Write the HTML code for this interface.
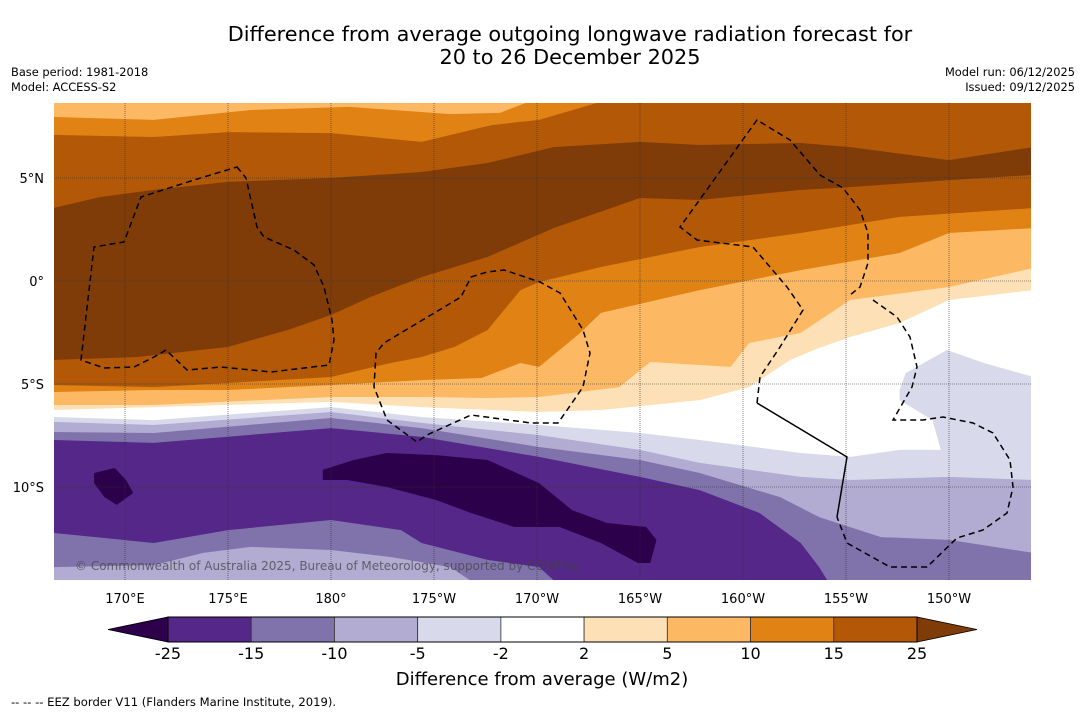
<!DOCTYPE html>
<html><head><meta charset="utf-8">
<style>
html,body{margin:0;padding:0;background:#fff;}
body{width:1085px;height:713px;overflow:hidden;font-family:"DejaVu Sans","Liberation Sans",sans-serif;}
svg text{font-family:"DejaVu Sans","Liberation Sans",sans-serif;}
</style></head>
<body>
<svg id="chart" width="1085" height="713" viewBox="0 0 1085 713" xmlns="http://www.w3.org/2000/svg">
<rect x="0" y="0" width="1085" height="713" fill="#fff"/>
<text x="570" y="41" font-size="20.8" text-anchor="middle" fill="#000">Difference from average outgoing longwave radiation forecast for</text>
<text x="570" y="64" font-size="20.8" text-anchor="middle" fill="#000">20 to 26 December 2025</text>
<text x="11" y="76" font-size="11.4" fill="#000">Base period: 1981-2018</text>
<text x="11" y="91" font-size="11.4" fill="#000">Model: ACCESS-S2</text>
<text x="1075" y="76" font-size="11.4" text-anchor="end" fill="#000">Model run: 06/12/2025</text>
<text x="1075" y="91" font-size="11.4" text-anchor="end" fill="#000">Issued: 09/12/2025</text>
<defs><clipPath id="mapclip"><rect x="54" y="103" width="977" height="477"/></clipPath></defs>
<g id="map" clip-path="url(#mapclip)"></g>
<g id="eez" clip-path="url(#mapclip)" fill="none" stroke="#000" stroke-width="1.5">
<path stroke-dasharray="6,4" d="M237,167 L246,178 L257,227 L264,237 L294,250 L314,265 L324,287 L332,320 L334,340 L329,365 L271,372 L221,367 L187,370 L166,350 L154,357 L134,367 L104,368 L81,360 L94,247 L124,242 L141,197 L194,180 Z"/>
<path stroke-dasharray="6,4" d="M471,277 L487,272 L504,270 L540,282 L560,293 L583,330 L590,353 L583,387 L565,413 L558,423 L531,423 L471,415 L427,435 L417,442 L387,420 L374,387 L376,353 L384,343 L461,297 Z"/>
<path stroke-dasharray="6,4" d="M757,403 L760,377 L780,347 L803,310 L787,287 L753,247 L697,240 L680,227 L757,120 L790,140 L820,175 L843,188 L860,210 L868,233 L868,263 L860,287 L850,295"/>
<path stroke-dasharray="6,4" d="M873,300 L897,317 L910,337 L917,367 L912,387 L893,420 L923,420 L943,417 L973,423 L993,433 L1010,460 L1013,487 L1007,513 L983,530 L957,538 L927,567 L890,567 L847,543 L837,517"/>
<path d="M757,403 L847,457 L837,517"/>
</g>
<g id="grid"></g>
<text x="75" y="570" font-size="12" fill="#444" fill-opacity="0.75">© Commonwealth of Australia 2025, Bureau of Meteorology, supported by COSPPac</text>
<g id="axes"></g>
<g id="cbar"></g>
<text x="542" y="685" font-size="18" text-anchor="middle" fill="#000">Difference from average (W/m2)</text>
<text x="11" y="706" font-size="11.6" fill="#000">--  --  -- EEZ border V11 (Flanders Marine Institute, 2019).</text>
</svg>
<script>
// ---- data ----
const bandColors = ["#2d004b","#542788","#8073ac","#b2abd2","#d8daeb","#ffffff","#fee0b6","#fdb863","#e08214","#b35806","#7f3b08"];
const levels = [-25,-15,-10,-5,-2,2,5,10,15,25];
const lonTicks = [170,175,180,185,190,195,200,205,210];
const lonTickLabels = ["170°E","175°E","180°","175°W","170°W","165°W","160°W","155°W","150°W"];
const latTicks = [5,0,-5,-10];
const latTickLabels = ["5°N","0°","5°S","10°S"];
const backgroundBand = "#fdb863";
// contour lines [lon,lat]; the region below each line is filled with its colour, in order
const c1 = [[166.5,7.96],[171.4,7.82],[176.1,8.3],[180.9,8.45],[185.8,8.1],[188.2,8.16],[189.6,8.7],[214.1,8.7]];
const c2 = [[166.5,7.09],[171.4,6.99],[175,7.23],[180,7.18],[184.4,6.75],[187.8,7.57],[190.1,7.82],[193.1,8.7],[214.1,8.7]];
const c3 = [[166.5,3.54],[168.8,4.08],[171.4,4.42],[175,4.81],[180,5.0],[184.4,5.29],[187.6,5.73],[190.8,6.5],[195,6.75],[197.9,6.6],[202.8,6.7],[205.2,6.5],[210,5.87],[214.1,6.5]];
const c4 = [[166.5,-3.83],[170.6,-3.69],[175,-3.2],[177.9,-2.38],[180,-1.65],[181.9,-0.78],[184.4,0.19],[187.6,1.17],[190.8,2.57],[195,4.03],[197.9,3.93],[202.8,4.42],[205.2,4.56],[210,4.9],[214.1,5.15]];
const c5 = [[166.5,-5.05],[171.4,-5.15],[175,-4.95],[180,-4.66],[182.9,-3.98],[184.4,-3.69],[186,-3.2],[187.6,-2.38],[189.2,-0.44],[190.1,-0.05],[193.1,0.68],[197.9,1.65],[202.8,2.33],[207.6,3.11],[214.1,3.54]];
const c6 = [[166.5,-5.39],[171.4,-5.29],[175,-5.29],[180,-5.05],[184.4,-4.81],[187.3,-4.71],[189.2,-3.98],[190.1,-4.17],[192.1,-2.52],[193.1,-1.55],[197.9,-0.44],[202.8,0.53],[207.6,1.36],[210,2.33],[214.1,2.57]];
const c7 = [[166.5,-6.02],[171.4,-6.02],[180,-5.63],[184.4,-5.63],[187.6,-5.68],[190.1,-5.63],[194,-5.15],[195.5,-3.93],[197.9,-4.08],[199.4,-4.17],[200.3,-3.01],[202.8,-2.52],[205.2,-0.92],[210,-0.29],[214.1,0.63]];
const c8 = [[166.5,-6.26],[180,-5.87],[184.4,-6.12],[190.1,-6.36],[193.1,-6.26],[197.9,-5.78],[200.3,-5.15],[202.3,-3.83],[203.7,-3.25],[205.2,-2.72],[207.6,-2.04],[210,-0.92],[214.1,-0.44]];
const c9 = [[166.5,-6.6],[171.4,-6.75],[180,-6.12],[184.4,-6.6],[190.1,-6.99],[195,-7.38],[197.9,-7.72],[202.8,-8.35],[205.2,-8.54],[207.6,-8.2],[210,-8.2],[214.1,-8.2]];
const eastBlob = [[207.6,-5.29],[207.9,-4.47],[209.9,-3.35],[211.7,-3.98],[214.1,-4.66],[214.1,-9],[209.6,-9],[209.6,-8.2],[209.2,-6.75],[207.6,-5.78]];
const c10 = [[166.5,-6.84],[171.4,-6.99],[180,-6.36],[184.4,-6.89],[190.1,-7.48],[195,-8.2],[197.9,-8.83],[202.8,-9.51],[205.2,-9.66],[210,-9.51],[214.1,-9.66]];
const c11 = [[166.5,-7.33],[171.4,-7.38],[180,-6.65],[184.4,-7.14],[190.1,-8.06],[195,-8.69],[197.9,-9.32],[201.8,-10.49],[203.7,-11.46],[206.7,-12.43],[210,-12.57],[214.1,-13.2]];
const c12 = [[166.5,-7.72],[171.4,-7.86],[180,-7.14],[184.4,-7.57],[190.1,-8.54],[195,-9.51],[197.9,-10.15],[200.8,-11.26],[202.8,-12.72],[203.7,-13.89],[204.2,-14.7],[214.1,-14.7]];
const minBlobWest = [[168.5,-9.32],[169.5,-9.08],[170.05,-9.66],[170.4,-10.29],[169.6,-10.87],[169,-10.49],[168.5,-9.81]];
const minBlobCentral = [[179.6,-9.17],[181.1,-8.69],[182.7,-8.35],[185.1,-8.45],[187.6,-8.69],[190.1,-9.81],[191.7,-11.12],[193.4,-11.75],[195.3,-11.94],[195.8,-12.57],[195.5,-13.69],[194.9,-13.69],[193.1,-12.72],[191.1,-11.94],[188.9,-11.94],[186.8,-11.26],[185.1,-10.63],[182.7,-10],[180.8,-9.66],[179.6,-9.66]];
const c13 = [[166.5,-12.23],[171.4,-12.72],[175,-12.09],[180,-11.6],[183.4,-12.09],[184.4,-12.72],[187.6,-13.54],[190.1,-13.89],[191,-14.7]];
const c14 = [[166.5,-13.89],[171.4,-13.79],[173.8,-13.2],[176.1,-12.91],[180,-13.06],[182.9,-13.4],[185.8,-13.89],[187,-14.7]];

// ---- axes ----
const NS = "http://www.w3.org/2000/svg";
function xOf(lon){ return 125 + (lon - 170) * 20.6; }
function yOf(lat){ return 281 - lat * 20.6; }
function mk(tag, attrs, parent){ const e = document.createElementNS(NS, tag); for (const k in attrs) e.setAttribute(k, attrs[k]); parent.appendChild(e); return e; }
const map = document.getElementById("map");
const bg = mk("rect", {x:54, y:103, width:977, height:477, fill:backgroundBand}, map);


function below(line, color, name){
  const pts = line.map(p => xOf(p[0]).toFixed(1) + "," + yOf(p[1]).toFixed(1));
  const last = line[line.length-1], first = line[0];
  pts.push(xOf(last[0]).toFixed(1) + "," + yOf(-16).toFixed(1));
  pts.push(xOf(first[0]).toFixed(1) + "," + yOf(-16).toFixed(1));
  const p = mk("polygon", {points: pts.join(" "), fill: color}, map);
  
  
}
function blob(line, color, name){
  const pts = line.map(p => xOf(p[0]).toFixed(1) + "," + yOf(p[1]).toFixed(1));
  const p = mk("polygon", {points: pts.join(" "), fill: color}, map);
  
  
}
below(c1, "#e08214", "band-10-15");
below(c2, "#b35806", "band-15-25");
below(c3, "#7f3b08", "band-above-25");
below(c4, "#b35806", "band-15-25-south");
below(c5, "#e08214", "band-10-15-south");
below(c6, "#fdb863", "band-5-10-south");
below(c7, "#fee0b6", "band-2-5");
below(c8, "#ffffff", "band-neutral");
below(c9, "#d8daeb", "band-minus5-minus2");
blob(eastBlob, "#d8daeb", "band-minus5-minus2-east");
below(c10, "#b2abd2", "band-minus10-minus5");
below(c11, "#8073ac", "band-minus15-minus10");
below(c12, "#542788", "band-minus25-minus15");
blob(minBlobWest, "#2d004b", "band-below-minus25-west");
blob(minBlobCentral, "#2d004b", "band-below-minus25-central");
below(c13, "#8073ac", "band-minus15-minus10-south");
below(c14, "#b2abd2", "band-minus10-minus5-south");

const grid = document.getElementById("grid");
const axes = document.getElementById("axes");
lonTicks.forEach((lon, i) => {
  const l = mk("line", {x1:xOf(lon), x2:xOf(lon), y1:103, y2:580, stroke:"#333", "stroke-width":0.6, "stroke-dasharray":"1,1"}, grid);
  
  
  const t = mk("text", {x:xOf(lon), y:603, "font-size":13, "text-anchor":"middle", fill:"#000"}, axes);
  t.textContent = lonTickLabels[i];
  
  
});
latTicks.forEach((lat, i) => {
  const l = mk("line", {x1:54, x2:1031, y1:yOf(lat), y2:yOf(lat), stroke:"#333", "stroke-width":0.6, "stroke-dasharray":"1,1"}, grid);
  
  
  const t = mk("text", {x:44, y:yOf(lat)+5, "font-size":13, "text-anchor":"end", fill:"#000"}, axes);
  t.textContent = latTickLabels[i];
  
  
});

// ---- colorbar ----
const cb = document.getElementById("cbar");
const cbX0 = 168, cbX1 = 917, cbY = 617, cbH = 25;
const nBox = levels.length - 1;
const boxW = (cbX1 - cbX0) / nBox;
const lt = mk("polygon", {points:`108,${cbY+cbH/2} ${cbX0},${cbY} ${cbX0},${cbY+cbH}`, fill:bandColors[0], stroke:"#000", "stroke-width":0.8}, cb);


const rt = mk("polygon", {points:`977,${cbY+cbH/2} ${cbX1},${cbY} ${cbX1},${cbY+cbH}`, fill:bandColors[bandColors.length-1], stroke:"#000", "stroke-width":0.8}, cb);


for (let i = 0; i < nBox; i++) {
  const r = mk("rect", {x:cbX0 + i*boxW, y:cbY, width:boxW, height:cbH, fill:bandColors[i+1], stroke:"#333", "stroke-width":0.8}, cb);
  
  
}
levels.forEach((v, i) => {
  const t = mk("text", {x:cbX0 + i*boxW, y:659, "font-size":16, "text-anchor":"middle", fill:"#000"}, cb);
  t.textContent = String(v);
  
  
});
mk("rect", {x:cbX0, y:cbY, width:cbX1-cbX0, height:cbH, fill:"none", stroke:"#000", "stroke-width":1}, cb);
</script>
</body></html>
